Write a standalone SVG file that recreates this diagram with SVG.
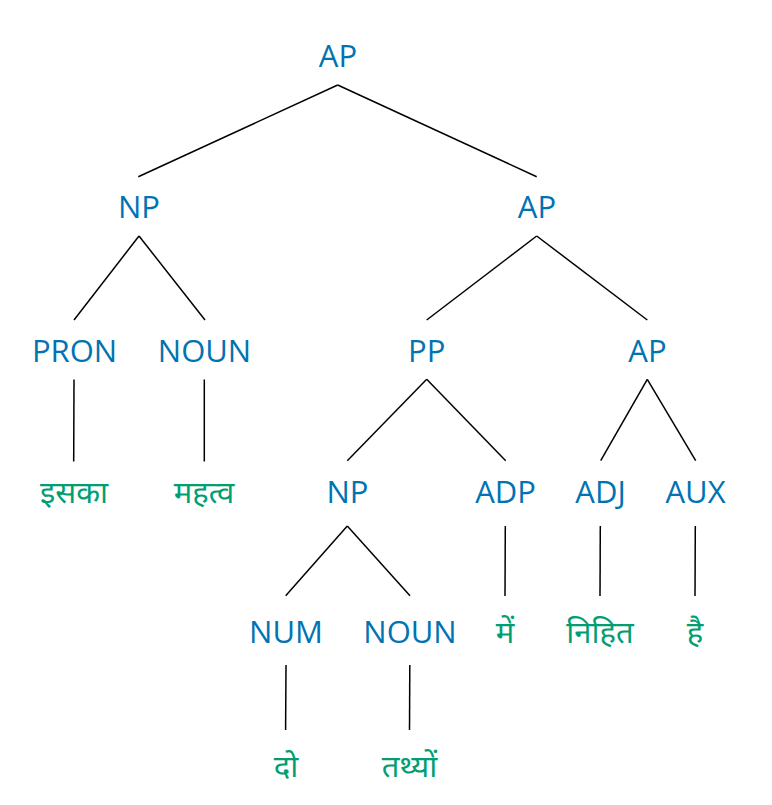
<svg xmlns="http://www.w3.org/2000/svg" width="772" height="805" viewBox="0 0 772 805">
<style>
text{font-family:"Open Sans","Noto Sans","Noto Sans Devanagari",sans-serif;font-size:31px;text-anchor:middle}
.c{fill:#0173B2}
.w{fill:#029E73}
#edges line{stroke:#000;stroke-width:1.5}
</style>
<rect width="772" height="805" fill="#fff"/>
<g id="edges">
<line x1="337.7" y1="85" x2="138.3" y2="176.7"/>
<line x1="337.7" y1="85" x2="536.7" y2="176.7"/>
<line x1="139" y1="236" x2="74" y2="320"/>
<line x1="139" y1="236" x2="205" y2="320"/>
<line x1="536.7" y1="236" x2="426.7" y2="320"/>
<line x1="536.7" y1="236" x2="647.3" y2="320"/>
<line x1="74" y1="379.5" x2="73.7" y2="461.5"/>
<line x1="204.3" y1="379.5" x2="204.3" y2="461.5"/>
<line x1="426.7" y1="379.3" x2="347.3" y2="460.7"/>
<line x1="426.7" y1="379.3" x2="505.7" y2="460.7"/>
<line x1="647.3" y1="379.3" x2="600.7" y2="460.7"/>
<line x1="647.3" y1="379.3" x2="695.7" y2="460.7"/>
<line x1="347.3" y1="526" x2="285.7" y2="595.7"/>
<line x1="347.3" y1="526" x2="410" y2="595.7"/>
<line x1="505.3" y1="526" x2="505" y2="596"/>
<line x1="600.3" y1="526" x2="600" y2="596"/>
<line x1="695.3" y1="526" x2="695" y2="596"/>
<line x1="286" y1="665" x2="285.6" y2="730"/>
<line x1="409.8" y1="665" x2="409.5" y2="730"/>
</g>
<g id="n_ap0"><text class="c" x="338" y="66.5">AP</text></g>
<g id="n_np1"><text class="c" x="139" y="218">NP</text></g>
<g id="n_ap1"><text class="c" x="537" y="218">AP</text></g>
<g id="n_pron"><text class="c" x="74.5" y="362">PRON</text></g>
<g id="n_noun1"><text class="c" x="204.5" y="362">NOUN</text></g>
<g id="n_pp"><text class="c" x="426.7" y="362">PP</text></g>
<g id="n_ap2"><text class="c" x="647.5" y="362">AP</text></g>
<g id="w_iska"><text class="w" x="74" y="503">इसका</text></g>
<g id="w_mahatva"><text class="w" x="204" y="503">महत्व</text></g>
<g id="n_np2"><text class="c" x="347.5" y="503">NP</text></g>
<g id="n_adp"><text class="c" x="505.5" y="503">ADP</text></g>
<g id="n_adj"><text class="c" x="600.5" y="503">ADJ</text></g>
<g id="n_aux"><text class="c" x="695.5" y="503">AUX</text></g>
<g id="n_num"><text class="c" x="286" y="643">NUM</text></g>
<g id="n_noun2"><text class="c" x="410" y="643">NOUN</text></g>
<g id="w_mein"><text class="w" x="505" y="643">में</text></g>
<g id="w_nihit"><text class="w" x="600" y="643">निहित</text></g>
<g id="w_hai"><text class="w" x="695" y="643">है</text></g>
<g id="w_do"><text class="w" x="286" y="777">दो</text></g>
<g id="w_tathyon"><text class="w" x="409.5" y="777">तथ्यों</text></g>
</svg>
